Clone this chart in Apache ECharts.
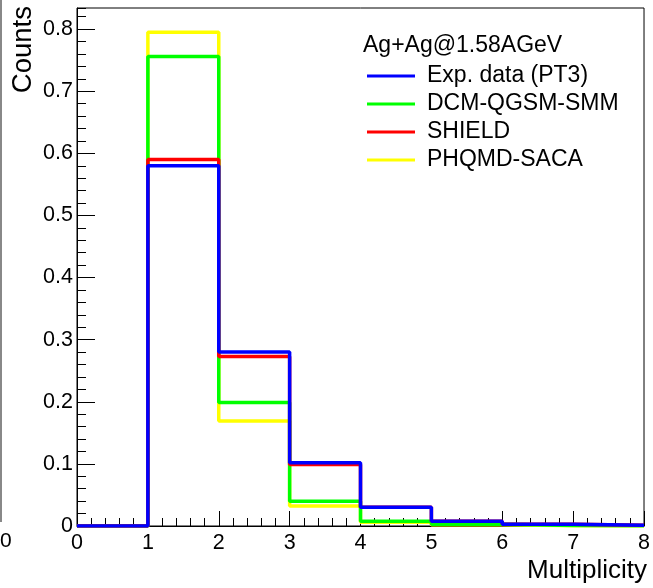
<!DOCTYPE html>
<html>
<head>
<meta charset="utf-8">
<script src="https://cdn.jsdelivr.net/npm/echarts@6/dist/echarts.min.js"></script>
<style>
  html, body { margin: 0; padding: 0; background: #fff; }
  #chart { width: 653px; height: 588px; }
</style>
</head>
<body>
<div id="chart"></div>
<script>
// bin edges of the multiplicity histogram
const binEdges = [0, 1, 2, 3, 4, 5, 6, 7, 8]
const seriesNames = ['Exp. data (PT3)', 'DCM-QGSM-SMM', 'SHIELD', 'PHQMD-SACA']
// contents of bins 0-1, 1-2, ... 7-8
const expData = [0, 0.580, 0.280, 0.102, 0.030, 0.0075, 0.0027, 0.0013]
const dcmData = [0, 0.756, 0.199, 0.040, 0.0075, 0.003, 0.001, 0.0003]
const shieldData = [0, 0.590, 0.273, 0.099, 0.030, 0.0075, 0.0027, 0.0013]
const phqmdData = [0, 0.795, 0.169, 0.032, 0.006, 0.002, 0.0005, 0]

const font = 'Liberation Sans, Arial, Helvetica, sans-serif'

// histogram as step line: one point per left edge + closing point at last edge
function toSteps (vals) {
  return binEdges.map((x, i) => [x, vals[Math.min(i, vals.length - 1)]])
}

function histSeries (name, vals, color) {
  return {
    name: name,
    type: 'line',
    step: 'end',
    showSymbol: false,
    symbol: 'none',
    color: color,
    lineStyle: { color: color, width: 3.5 },
    data: toSteps(vals)
  }
}

let chartDom = document.getElementById('chart')
let myChart = echarts.init(chartDom, null, { renderer: 'canvas' })

let yMax = 0.834

let option = {
  animation: false,
  backgroundColor: '#fff',
  grid: {
    left: 77,
    right: 3,
    top: 8,
    bottom: 62,
    show: true,
    borderColor: '#000',
    borderWidth: 1
  },
  legend: {
    data: seriesNames,
    orient: 'vertical',
    left: 367,
    top: 64,
    icon: 'rect',
    itemWidth: 48,
    itemHeight: 3,
    itemGap: 4,
    padding: 0,
    textStyle: {
      fontFamily: font,
      fontSize: 23,
      color: '#000',
      lineHeight: 24,
      padding: [0, 0, 0, 7]
    }
  },
  xAxis: {
    type: 'value',
    min: 0,
    max: 8,
    interval: 1,
    axisLine: { show: true, lineStyle: { color: '#000', width: 1 } },
    axisTick: { show: true, inside: true, length: 15, lineStyle: { color: '#000' } },
    minorTick: { show: true, splitNumber: 5, length: 8, lineStyle: { color: '#000' } },
    splitLine: { show: false },
    axisLabel: { fontFamily: font, fontSize: 21.5, color: '#000', margin: 6 }
  },
  yAxis: [
    {
      type: 'value',
      min: 0,
      max: yMax,
      interval: 0.1,
      axisLine: { show: true, lineStyle: { color: '#000', width: 1 } },
      axisTick: { show: true, inside: true, length: 18, lineStyle: { color: '#000' } },
      splitLine: { show: false },
      axisLabel: {
        fontFamily: font,
        fontSize: 21.5,
        color: '#000',
        margin: 4,
        showMaxLabel: false,
        formatter: v => (Math.abs(v * 10 - Math.round(v * 10)) < 1e-6 ? String(+v.toFixed(1)) : '')
      }
    },
    {
      // minor ticks only
      type: 'value',
      position: 'left',
      min: 0,
      max: yMax,
      interval: 0.02,
      axisLine: { show: false },
      axisTick: { show: true, inside: true, length: 9, lineStyle: { color: '#000' } },
      splitLine: { show: false },
      axisLabel: { show: false }
    }
  ],
  graphic: [
    {
      type: 'text',
      x: 23.5,
      y: 6,
      rotation: Math.PI / 2,
      style: {
        text: 'Counts',
        font: '27.5px ' + font,
        fill: '#000',
        textAlign: 'right',
        textVerticalAlign: 'middle'
      }
    },
    {
      type: 'text',
      x: 647,
      y: 571,
      style: {
        text: 'Multiplicity',
        font: '26px ' + font,
        fill: '#000',
        textAlign: 'right',
        textVerticalAlign: 'middle'
      }
    },
    {
      type: 'text',
      x: 363,
      y: 45.5,
      style: {
        text: 'Ag+Ag@1.58AGeV',
        font: '23px ' + font,
        fill: '#000',
        textAlign: 'left',
        textVerticalAlign: 'middle'
      }
    },
    // remains of the neighbouring pad on the left edge
    {
      type: 'line',
      shape: { x1: 1, y1: 0, x2: 1, y2: 522 },
      style: { stroke: '#888', lineWidth: 2 }
    },
    {
      type: 'text',
      x: 0,
      y: 541,
      style: {
        text: '0',
        font: '21px ' + font,
        fill: '#000',
        textAlign: 'left',
        textVerticalAlign: 'middle'
      }
    }
  ],
  series: [
    histSeries(seriesNames[3], phqmdData, '#ffff00'),
    histSeries(seriesNames[1], dcmData, '#00ff00'),
    histSeries(seriesNames[2], shieldData, '#ff0000'),
    histSeries(seriesNames[0], expData, '#0000ff')
  ]
}

myChart.setOption(option)
</script>
</body>
</html>
